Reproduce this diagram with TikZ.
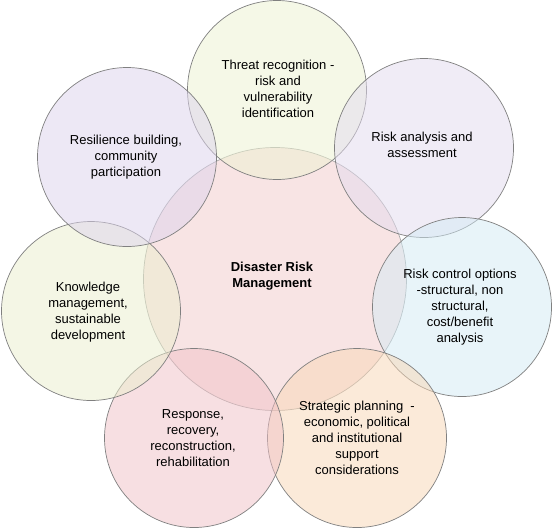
\documentclass[tikz,border=0pt]{standalone}
\usepackage{fontspec}
\setmainfont{Liberation Sans}
\definecolor{cCenter}{HTML}{F3CBCB}
\definecolor{cThreat}{HTML}{EDF3D1}
\definecolor{cAnalysis}{HTML}{E3DBEF}
\definecolor{cControl}{HTML}{D3EBF5}
\definecolor{cPlan}{HTML}{F9D7B5}
\definecolor{cResp}{HTML}{F1C1C7}
\definecolor{cKnow}{HTML}{EBEFCD}
\definecolor{cResil}{HTML}{DDD3ED}
\definecolor{cEdge}{HTML}{808080}
\definecolor{cEdgeLight}{HTML}{A8A8A8}
\begin{document}
\begin{tikzpicture}[x=1pt,y=-1pt,
  outer/.style={circle, draw=cEdge, line width=0.7pt, minimum size=179pt, inner sep=0pt, fill opacity=0.5},
  inner/.style={circle, draw=cEdgeLight, line width=0.7pt, minimum size=263pt, inner sep=0pt, fill opacity=0.5},
  lbl/.style={align=center, font=\fontsize{13}{16}\selectfont, inner sep=0pt},
  blbl/.style={align=center, font=\fontsize{13}{16}\selectfont\bfseries, inner sep=0pt}]
\fill[white] (0,0) rectangle (553,528);
\useasboundingbox (0,0) rectangle (553,528);
\node[inner, fill=cCenter] (drm) at (275,279) {};
\node[outer, fill=cThreat] (threat) at (277,90) {};
\node[outer, fill=cAnalysis] (analysis) at (424,148) {};
\node[outer, fill=cControl] (control) at (462,307) {};
\node[outer, fill=cPlan] (plan) at (357,438) {};
\node[outer, fill=cResp] (resp) at (194,438) {};
\node[outer, fill=cKnow] (know) at (91,311) {};
\node[outer, fill=cResil] (resil) at (127,157) {};
\node[blbl] (tdrm) at (272,276) {Disaster Risk\\Management};
\node[lbl] (tthreat) at (278,89) {Threat recognition -\\risk and\\vulnerability\\identification};
\node[lbl] (tanalysis) at (422,145) {Risk analysis and\\assessment};
\node[lbl] (tcontrol) at (460,307) {Risk control options\\-structural, non\\structural,\\cost/benefit\\analysis};
\node[lbl] (tplan) at (357,438) {Strategic planning\ \ -\\economic, political\\and institutional\\support\\considerations};
\node[lbl] (tresp) at (193,438) {Response,\\recovery,\\reconstruction,\\rehabilitation};
\node[lbl] (tknow) at (88,312) {Knowledge\\management,\\sustainable\\development};
\node[lbl] (tresil) at (126,157) {Resilience building,\\community\\participation};
\end{tikzpicture}
\end{document}
